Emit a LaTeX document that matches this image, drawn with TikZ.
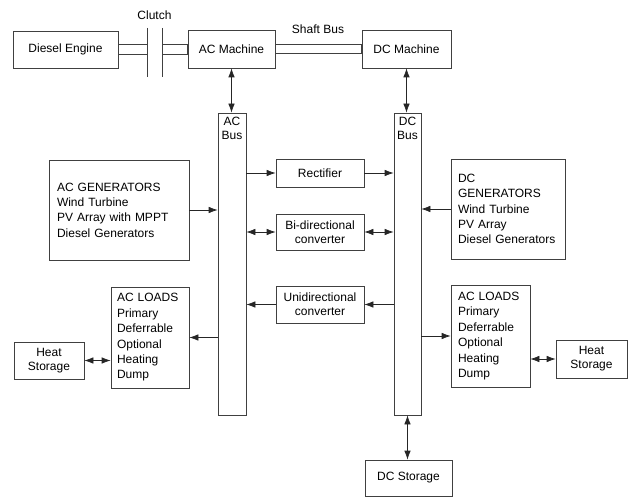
\documentclass[tikz,border=0pt]{standalone}
\usepackage{fontspec}
\setmainfont{Liberation Sans}
\usepackage{tikz}
\usetikzlibrary{arrows.meta}

\begin{document}
\begin{tikzpicture}[
                    x=1pt, y=-1pt,
                    >={Latex[length=9pt,width=6.5pt]},
                    every node/.style={
                        font=\fontsize{12}{15.4}\selectfont,
                        inner sep=2pt
                    },
                    box/.style={
                        draw=black!75,
                        line width=0.7pt,
                        rectangle,
                        align=center
                    },
                    listbox/.style={
                        box,
                        align=left
                    },
                    bus/.style={
                        draw=black!75,
                        line width=0.7pt,
                        minimum width=28pt,
                        minimum height=302pt
                    },
                    link/.style={draw=black!85, line width=0.7pt},
                    shaft/.style={draw=black!75, line width=0.7pt}
                ]
                    \useasboundingbox (0,0) rectangle (634,497);

                    % Machines
                    \node[box, minimum width=105pt, minimum height=37pt] (diesel) at (65.5,49.5) {Diesel Engine};
                    \node[box, minimum width=87pt, minimum height=38pt] (acm) at (231.5,49) {AC Machine};
                    \node[box, minimum width=89pt, minimum height=38pt] (dcm) at (406.5,49) {DC Machine};
                    \node (clutchlbl) at (154.5,15) {Clutch};
                    \node (shaftlbl) at (318,29) {Shaft Bus};
                    \coordinate (cl1) at (147,49.5);
                    \coordinate (cl2) at (162,49.5);

                    % Buses
                    \node[bus] (acbus) at (232,264) {};
                    \node[bus, minimum width=27pt] (dcbus) at (407.5,264) {};
                    \node[anchor=north, align=center, inner sep=4pt, font=\fontsize{12}{14}\selectfont] (acbuslbl) at (acbus.north) {AC\\Bus};
                    \node[anchor=north, align=center, inner sep=4pt, font=\fontsize{12}{14}\selectfont] (dcbuslbl) at (dcbus.north) {DC\\Bus};

                    % Converters
                    \node[box, minimum width=88pt, minimum height=28pt] (rect) at (320,173) {Rectifier};
                    \node[box, minimum width=88pt, minimum height=36pt, font=\fontsize{12}{14}\selectfont] (bidir) at (320,232) {Bi-directional\\converter};
                    \node[box, minimum width=88pt, minimum height=37pt, font=\fontsize{12}{14}\selectfont] (unidir) at (320,304.5) {Unidirectional\\converter};

                    % Generators and loads
                    \node[listbox, text width=124pt, inner xsep=8pt, minimum height=100pt] (acgen) at (119,210)
                        {AC GENERATORS\\Wind Turbine\\PV Array with MPPT\\Diesel Generators};
                    \node[listbox, text width=100pt, inner xsep=7pt, minimum height=100pt] (dcgen) at (508,209)
                        {DC\\GENERATORS\\Wind Turbine\\PV Array\\Diesel Generators};
                    \node[listbox, text width=66pt, inner xsep=6pt, minimum height=101pt] (acloadl) at (150,337.5)
                        {AC LOADS\\Primary\\Deferrable\\Optional\\Heating\\Dump};
                    \node[listbox, text width=65pt, inner xsep=7pt, minimum height=102pt] (acloadr) at (490.5,336)
                        {AC LOADS\\Primary\\Deferrable\\Optional\\Heating\\Dump};

                    % Storage
                    \node[box, minimum width=70pt, minimum height=37pt, font=\fontsize{12}{14}\selectfont] (heatl) at (49,360.5) {Heat\\Storage};
                    \node[box, minimum width=71pt, minimum height=38pt, font=\fontsize{12}{14}\selectfont] (heatr) at (591.5,359) {Heat\\Storage};
                    \node[box, minimum width=87pt, minimum height=36pt] (dcstor) at (408.5,478) {DC Storage};

                    % Shafts and clutch
                    \draw[shaft] ([yshift=5pt]diesel.east) rectangle ([yshift=-5pt]cl1);
                    \draw[shaft] ([yshift=5pt]cl2) rectangle ([yshift=-5pt]acm.west);
                    \draw[shaft] ([yshift=4.5pt]acm.east) rectangle ([yshift=-4.5pt]dcm.west);
                    \draw[shaft] ([yshift=21.5pt]cl1) -- ([yshift=-27.5pt]cl1);
                    \draw[shaft] ([yshift=21.5pt]cl2) -- ([yshift=-27.5pt]cl2);

                    % Edges
                    \draw[link, <->] (acm.south) -- (acm.south |- acbus.north);
                    \draw[link, <->] (dcm.south) -- (dcm.south |- dcbus.north);
                    \draw[link, ->] (acgen.east) -- (acgen.east -| acbus.west);
                    \draw[link, ->] (rect.west -| acbus.east) -- (rect.west);
                    \draw[link, ->] (rect.east) -- (rect.east -| dcbus.west);
                    \draw[link, <->] (bidir.west -| acbus.east) -- (bidir.west);
                    \draw[link, <->] (bidir.east) -- (bidir.east -| dcbus.west);
                    \draw[link, ->] (unidir.east -| dcbus.west) -- (unidir.east);
                    \draw[link, ->] (unidir.west) -- (unidir.west -| acbus.east);
                    \draw[link, ->] (dcgen.west) -- (dcgen.west -| dcbus.east);
                    \draw[link, ->] (acloadl.east -| acbus.west) -- (acloadl.east);
                    \draw[link, <->] (heatl.east) -- (heatl.east -| acloadl.west);
                    \draw[link, ->] (acloadr.west -| dcbus.east) -- (acloadr.west);
                    \draw[link, <->] (heatr.west -| acloadr.east) -- (heatr.west);
                    \draw[link, <->] (dcbus.south) -- (dcbus.south |- dcstor.north);
                \end{tikzpicture}
\end{document}
